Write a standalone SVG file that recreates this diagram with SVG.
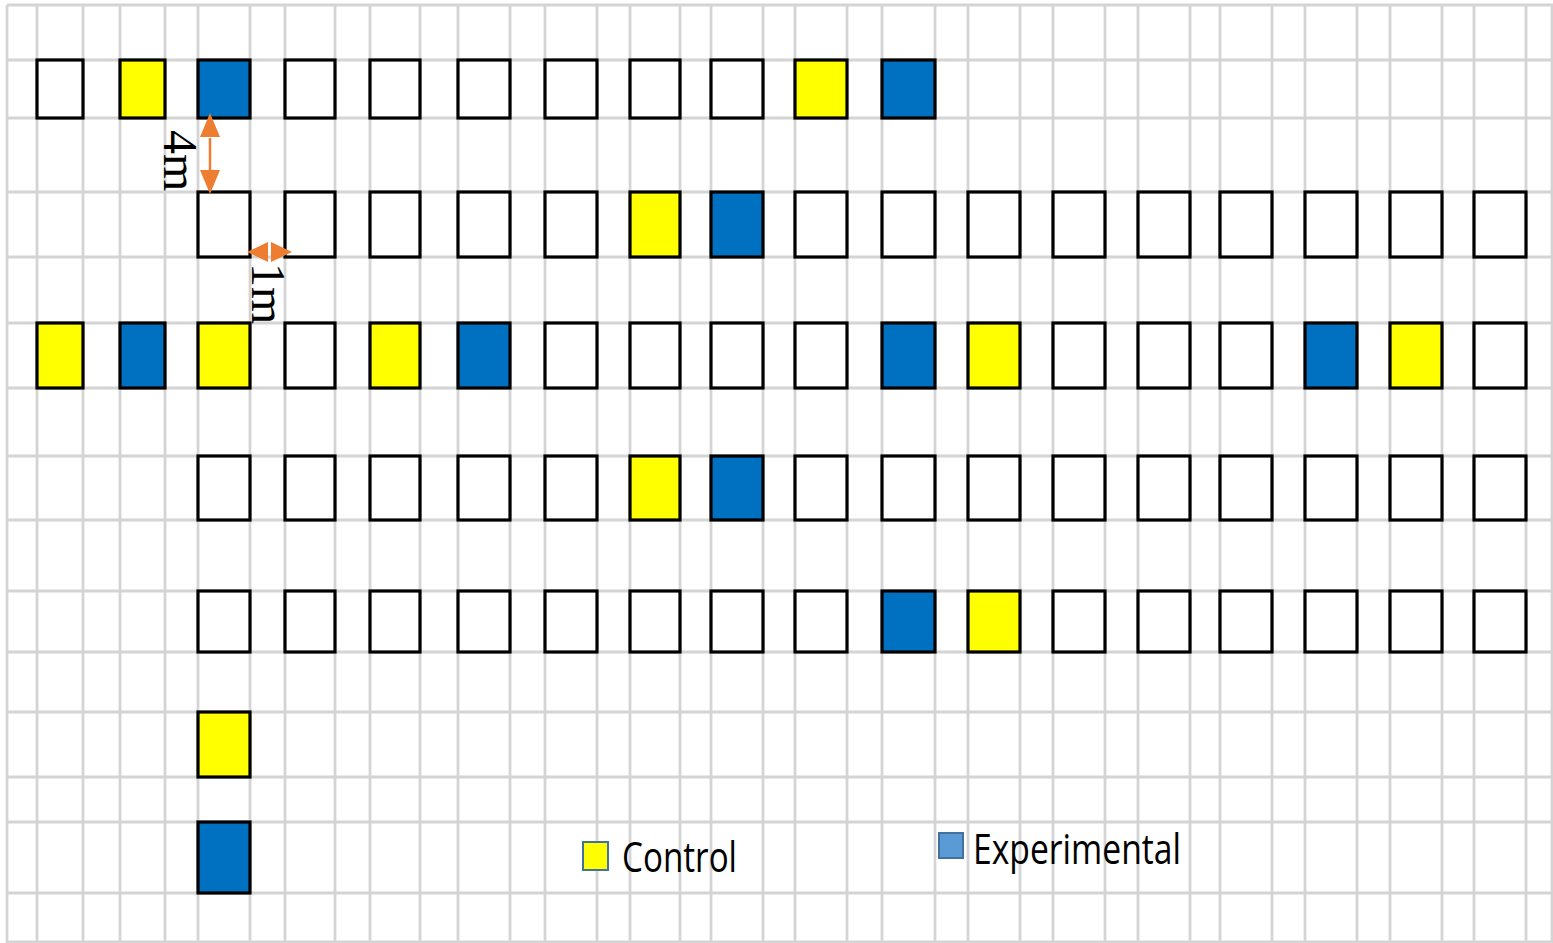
<svg xmlns="http://www.w3.org/2000/svg" width="1553" height="943" viewBox="0 0 1553 943">
<style>
.g{stroke:#d4d4d4;stroke-width:2.8;fill:none}
.b{stroke:#000;stroke-width:3.2;fill:#fff}
.y{fill:#ffff00}
.e{fill:#0070c0}
.lbl{font-family:"Liberation Serif","Times New Roman",serif;font-size:48px;fill:#000}
.leg{font-family:"Open Sans","Liberation Sans",sans-serif;font-size:42px;fill:#000}
.arr{fill:#ed7d31}
</style>
<rect width="1553" height="943" fill="#fff"/>
<g id="grid" class="g">
<path d="M7 5V943M37 5V943M83 5V943M120 5V943M165 5V943M198 5V943M250 5V943M285 5V943M335 5V943M370 5V943M420 5V943M458 5V943M510 5V943M545 5V943M597 5V943M630 5V943M680 5V943M711 5V943M763 5V943M795 5V943M847 5V943M882 5V943M935 5V943M968 5V943M1020 5V943M1053 5V943M1105 5V943M1138 5V943M1190 5V943M1220 5V943M1272 5V943M1305 5V943M1357 5V943M1390 5V943M1442 5V943M1474 5V943M1526 5V943M1552 5V943"/>
<path d="M7 5H1553M7 60H1553M7 118H1553M7 192H1553M7 257H1553M7 323H1553M7 388H1553M7 456H1553M7 520H1553M7 591H1553M7 652H1553M7 712H1553M7 777H1553M7 822H1553M7 893H1553M7 942H1553"/>
</g>
<g id="row1">
<rect class="b" x="37" y="60" width="46" height="58"/>
<rect class="b y" x="120" y="60" width="45" height="58"/>
<rect class="b e" x="198" y="60" width="52" height="58"/>
<rect class="b" x="285" y="60" width="50" height="58"/>
<rect class="b" x="370" y="60" width="50" height="58"/>
<rect class="b" x="458" y="60" width="52" height="58"/>
<rect class="b" x="545" y="60" width="52" height="58"/>
<rect class="b" x="630" y="60" width="50" height="58"/>
<rect class="b" x="711" y="60" width="52" height="58"/>
<rect class="b y" x="795" y="60" width="52" height="58"/>
<rect class="b e" x="882" y="60" width="53" height="58"/>
</g>
<g id="row2">
<rect class="b" x="198" y="192" width="52" height="65"/>
<rect class="b" x="285" y="192" width="50" height="65"/>
<rect class="b" x="370" y="192" width="50" height="65"/>
<rect class="b" x="458" y="192" width="52" height="65"/>
<rect class="b" x="545" y="192" width="52" height="65"/>
<rect class="b y" x="630" y="192" width="50" height="65"/>
<rect class="b e" x="711" y="192" width="52" height="65"/>
<rect class="b" x="795" y="192" width="52" height="65"/>
<rect class="b" x="882" y="192" width="53" height="65"/>
<rect class="b" x="968" y="192" width="52" height="65"/>
<rect class="b" x="1053" y="192" width="52" height="65"/>
<rect class="b" x="1138" y="192" width="52" height="65"/>
<rect class="b" x="1220" y="192" width="52" height="65"/>
<rect class="b" x="1305" y="192" width="52" height="65"/>
<rect class="b" x="1390" y="192" width="52" height="65"/>
<rect class="b" x="1474" y="192" width="52" height="65"/>
</g>
<g id="row3">
<rect class="b y" x="37" y="323" width="46" height="65"/>
<rect class="b e" x="120" y="323" width="45" height="65"/>
<rect class="b y" x="198" y="323" width="52" height="65"/>
<rect class="b" x="285" y="323" width="50" height="65"/>
<rect class="b y" x="370" y="323" width="50" height="65"/>
<rect class="b e" x="458" y="323" width="52" height="65"/>
<rect class="b" x="545" y="323" width="52" height="65"/>
<rect class="b" x="630" y="323" width="50" height="65"/>
<rect class="b" x="711" y="323" width="52" height="65"/>
<rect class="b" x="795" y="323" width="52" height="65"/>
<rect class="b e" x="882" y="323" width="53" height="65"/>
<rect class="b y" x="968" y="323" width="52" height="65"/>
<rect class="b" x="1053" y="323" width="52" height="65"/>
<rect class="b" x="1138" y="323" width="52" height="65"/>
<rect class="b" x="1220" y="323" width="52" height="65"/>
<rect class="b e" x="1305" y="323" width="52" height="65"/>
<rect class="b y" x="1390" y="323" width="52" height="65"/>
<rect class="b" x="1474" y="323" width="52" height="65"/>
</g>
<g id="row4">
<rect class="b" x="198" y="456" width="52" height="64"/>
<rect class="b" x="285" y="456" width="50" height="64"/>
<rect class="b" x="370" y="456" width="50" height="64"/>
<rect class="b" x="458" y="456" width="52" height="64"/>
<rect class="b" x="545" y="456" width="52" height="64"/>
<rect class="b y" x="630" y="456" width="50" height="64"/>
<rect class="b e" x="711" y="456" width="52" height="64"/>
<rect class="b" x="795" y="456" width="52" height="64"/>
<rect class="b" x="882" y="456" width="53" height="64"/>
<rect class="b" x="968" y="456" width="52" height="64"/>
<rect class="b" x="1053" y="456" width="52" height="64"/>
<rect class="b" x="1138" y="456" width="52" height="64"/>
<rect class="b" x="1220" y="456" width="52" height="64"/>
<rect class="b" x="1305" y="456" width="52" height="64"/>
<rect class="b" x="1390" y="456" width="52" height="64"/>
<rect class="b" x="1474" y="456" width="52" height="64"/>
</g>
<g id="row5">
<rect class="b" x="198" y="591" width="52" height="61"/>
<rect class="b" x="285" y="591" width="50" height="61"/>
<rect class="b" x="370" y="591" width="50" height="61"/>
<rect class="b" x="458" y="591" width="52" height="61"/>
<rect class="b" x="545" y="591" width="52" height="61"/>
<rect class="b" x="630" y="591" width="50" height="61"/>
<rect class="b" x="711" y="591" width="52" height="61"/>
<rect class="b" x="795" y="591" width="52" height="61"/>
<rect class="b e" x="882" y="591" width="53" height="61"/>
<rect class="b y" x="968" y="591" width="52" height="61"/>
<rect class="b" x="1053" y="591" width="52" height="61"/>
<rect class="b" x="1138" y="591" width="52" height="61"/>
<rect class="b" x="1220" y="591" width="52" height="61"/>
<rect class="b" x="1305" y="591" width="52" height="61"/>
<rect class="b" x="1390" y="591" width="52" height="61"/>
<rect class="b" x="1474" y="591" width="52" height="61"/>
</g>
<g id="row6"><rect class="b y" x="198" y="712" width="52" height="65"/></g>
<g id="row7"><rect class="b e" x="198" y="822" width="52" height="71"/></g>
<g id="connectors">
<path d="M210 138V172" stroke="#ed7d31" stroke-width="2.5"/>
<path class="arr" d="M210 113L220 137H200Z"/>
<path class="arr" d="M210 194L220 170H200Z"/>
<path class="arr" d="M247 252L268 242V262Z"/>
<path class="arr" d="M292 252L271 242V262Z"/>
</g>
<g id="labels">
<text class="lbl" transform="translate(164,130) rotate(90)">4m</text>
<text class="lbl" transform="translate(252,263) rotate(90)">1m</text>
</g>
<g id="legend">
<rect x="583" y="842" width="25" height="28" fill="#ffff00" stroke="#41719c" stroke-width="2"/>
<text class="leg" x="622" y="872" textLength="115" lengthAdjust="spacingAndGlyphs">Control</text>
<rect x="939" y="833" width="24" height="25" fill="#5b9bd5" stroke="#41719c" stroke-width="2"/>
<text class="leg" x="973" y="864" textLength="208" lengthAdjust="spacingAndGlyphs">Experimental</text>
</g>
</svg>
